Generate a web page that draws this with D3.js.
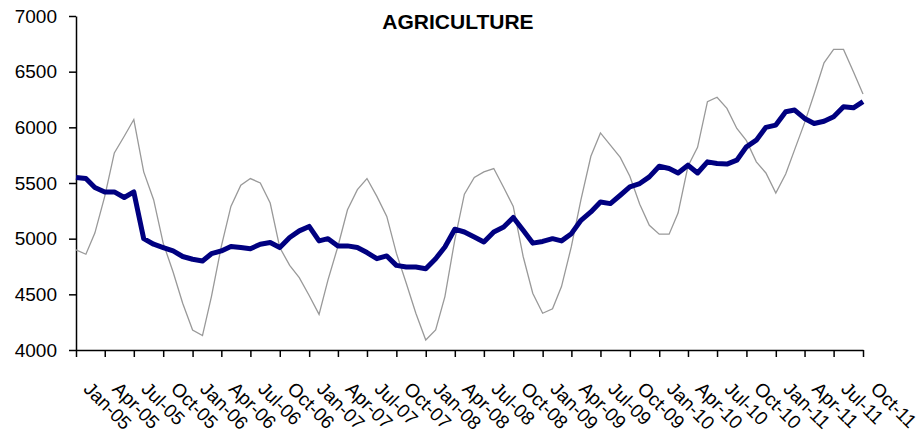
<!DOCTYPE html>
<html>
<head>
<meta charset="utf-8">
<script src="https://cdn.jsdelivr.net/npm/d3@7"></script>
<style>
  body { margin: 0; background: #fff; }
  text { font-family: "Liberation Sans", Arial, sans-serif; }
</style>
</head>
<body>
<div id="chart"></div>
<script>
// tick labels, one every 3 months
var tickLabels = ["Jan-05","Apr-05","Jul-05","Oct-05","Jan-06","Apr-06","Jul-06","Oct-06",
  "Jan-07","Apr-07","Jul-07","Oct-07","Jan-08","Apr-08","Jul-08","Oct-08",
  "Jan-09","Apr-09","Jul-09","Oct-09","Jan-10","Apr-10","Jul-10","Oct-10",
  "Jan-11","Apr-11","Jul-11","Oct-11"];

// monthly values Jan-05 .. Oct-11
var seasonal = [4900,4860,5050,5380,5770,5920,6070,5600,5350,4960,4700,4420,
  4180,4130,4480,4930,5290,5480,5540,5500,5320,4920,4760,4650,
  4490,4320,4630,4930,5260,5440,5540,5380,5200,4870,4600,4330,
  4090,4180,4480,4990,5400,5550,5600,5630,5460,5290,4840,4510,
  4330,4370,4570,4930,5350,5740,5950,5840,5730,5560,5310,5120,
  5040,5040,5230,5650,5820,6230,6270,6170,5990,5880,5690,5590,
  5410,5580,5800,6040,6300,6580,6700,6700,6500,6300];

var trend = [5550,5540,5460,5420,5420,5370,5420,5000,4950,4920,4890,4840,
  4815,4800,4865,4890,4930,4920,4910,4950,4965,4920,5010,5070,
  5110,4980,5000,4935,4935,4920,4875,4820,4845,4760,4745,4745,
  4730,4820,4925,5085,5060,5015,4970,5060,5105,5190,5075,4960,
  4975,5000,4980,5045,5165,5240,5330,5315,5390,5465,5495,5555,
  5650,5630,5590,5660,5590,5690,5675,5670,5705,5825,5885,6000,
  6020,6140,6155,6080,6035,6055,6095,6185,6175,6230];

var yTicks = [4000, 4500, 5000, 5500, 6000, 6500, 7000];

var width = 924, height = 438;
var plotLeft = 76, plotRight = 863, plotTop = 16, plotBottom = 350;

var start = new Date(2005, 0, 1);
var monthDate = function(i){ return d3.timeMonth.offset(start, i); };
var tickDates = tickLabels.map(function(d, i){ return monthDate(i * 3); });

var svg = d3.select("#chart").append("svg")
  .attr("width", width)
  .attr("height", height);

var x = d3.scaleTime()
  .domain([start, monthDate(seasonal.length - 1)])
  .range([plotLeft, plotRight]);

var y = d3.scaleLinear()
  .domain([4000, 7000])
  .range([plotBottom, plotTop]);

// title
svg.append("text")
  .attr("x", 458)
  .attr("y", 29)
  .attr("text-anchor", "middle")
  .style("font-size", "21px")
  .style("font-weight", "bold")
  .text("AGRICULTURE");

// y axis
var yAxis = svg.append("g")
  .attr("transform", "translate(" + plotLeft + ",0)")
  .call(d3.axisLeft(y).tickValues(yTicks).tickSize(7).tickSizeOuter(0).tickPadding(12).tickFormat(d3.format("d")));
yAxis.select(".domain").attr("stroke", "#000").attr("stroke-width", 1.5);
yAxis.selectAll(".tick line").attr("stroke", "#000").attr("stroke-width", 1.5);
yAxis.selectAll("text").attr("font-family", null).style("font-size", "19px").attr("fill", "#000");

// x axis
var xAxis = svg.append("g")
  .attr("transform", "translate(0," + plotBottom + ")")
  .call(d3.axisBottom(x).tickValues(tickDates).tickSize(7).tickSizeOuter(0)
    .tickFormat(function(d, i){ return tickLabels[i]; }));
xAxis.select(".domain").attr("stroke", "#000").attr("stroke-width", 1.5);
xAxis.selectAll(".tick line").attr("stroke", "#000").attr("stroke-width", 1.5);
xAxis.selectAll("text")
  .attr("font-family", null)
  .style("font-size", "19px")
  .attr("fill", "#000")
  .attr("text-anchor", "start")
  .attr("y", 0)
  .attr("dy", 0)
  .attr("transform", "translate(6,40) rotate(45)");

// lines
var line = function(values){
  return d3.line()
    .x(function(d, i){ return x(monthDate(i)); })
    .y(function(d){ return y(d); })(values);
};

svg.append("path")
  .attr("d", line(seasonal))
  .attr("fill", "none")
  .attr("stroke", "#999")
  .attr("stroke-width", 1.3);

svg.append("path")
  .attr("d", line(trend))
  .attr("fill", "none")
  .attr("stroke", "#000080")
  .attr("stroke-width", 5)
  .attr("stroke-linejoin", "round");
</script>
</body>
</html>
